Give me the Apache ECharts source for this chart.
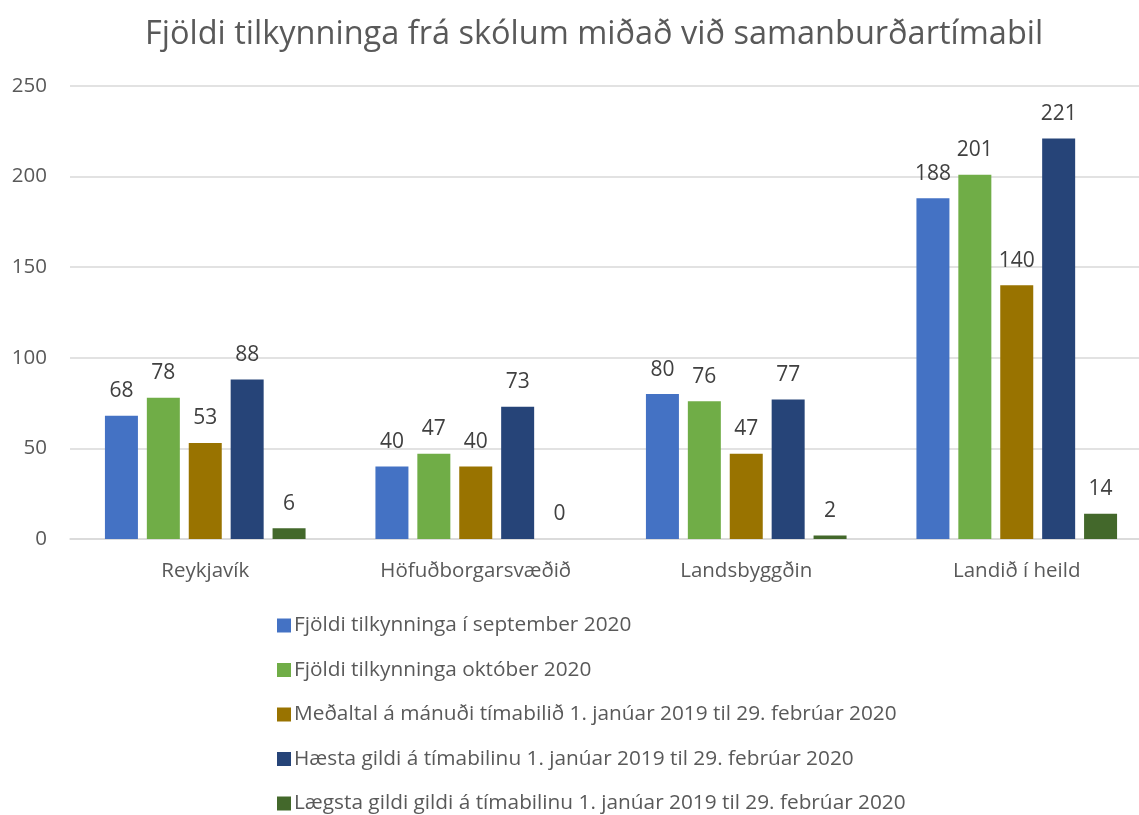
<!DOCTYPE html>
<html>
<head>
<meta charset="utf-8">
<script src="https://cdn.jsdelivr.net/npm/echarts@6/dist/echarts.min.js"></script>
<style>
  html, body { margin: 0; padding: 0; background: #fff; }
  #chart { width: 1139px; height: 815px; }
</style>
</head>
<body>
<div id="chart"></div>
<script>
const categories = ['Reykjavík', 'Höfuðborgarsvæðið', 'Landsbyggðin', 'Landið í heild'];
const seriesNames = [
  'Fjöldi tilkynninga í september 2020',
  'Fjöldi tilkynninga október 2020',
  'Meðaltal á mánuði tímabilið 1. janúar 2019 til 29. febrúar 2020',
  'Hæsta gildi á tímabilinu 1. janúar 2019 til 29. febrúar 2020',
  'Lægsta gildi gildi á tímabilinu 1. janúar 2019 til 29. febrúar 2020'
];
const september = [68, 40, 80, 188];
const oktober = [78, 47, 76, 201];
const medaltal = [53, 40, 47, 140];
const haesta = [88, 73, 77, 221];
const laegsta = [6, 0, 2, 14];
const colors = ['#4472C4', '#70AD47', '#997300', '#264478', '#43682B'];

const font = '"Open Sans", "Noto Sans", sans-serif';
const values = [september, oktober, medaltal, haesta, laegsta];

const chart = echarts.init(document.getElementById('chart'));
chart.setOption({
  animation: false,
  color: colors,
  title: {
    text: 'Fjöldi tilkynninga frá skólum miðað við samanburðartímabil',
    left: 140,
    top: 13,
    textStyle: { fontFamily: font, fontSize: 32.5, fontWeight: 'normal', color: '#595959' }
  },
  legend: {
    orient: 'vertical',
    left: 272,
    top: 610,
    height: 220,
    itemWidth: 14,
    itemHeight: 14,
    itemGap: 23.5,
    icon: 'rect',
    textStyle: { fontFamily: font, fontSize: 20.8, color: '#595959', padding: [0, 0, 0, -2] }
  },
  grid: { left: 70, top: 86, width: 1082, height: 453, outerBoundsMode: 'none' },
  xAxis: {
    type: 'category',
    data: categories,
    axisTick: { show: false },
    axisLine: { lineStyle: { color: '#d9d9d9', width: 1.5 } },
    axisLabel: { fontFamily: font, fontSize: 20.5, color: '#595959', margin: 22 }
  },
  yAxis: {
    type: 'value',
    min: 0,
    max: 250,
    interval: 50,
    splitLine: { lineStyle: { color: '#d9d9d9', width: 1.5 } },
    axisLabel: { fontFamily: font, fontSize: 20.5, color: '#595959', margin: 23 }
  },
  series: seriesNames.map((name, i) => ({
    name: name,
    type: 'bar',
    data: values[i],
    barWidth: 33,
    barGap: '27%',
    label: {
      show: true,
      position: 'top',
      distance: 14,
      fontFamily: font,
      fontSize: 21,
      color: '#404040'
    }
  }))
});
</script>
</body>
</html>
